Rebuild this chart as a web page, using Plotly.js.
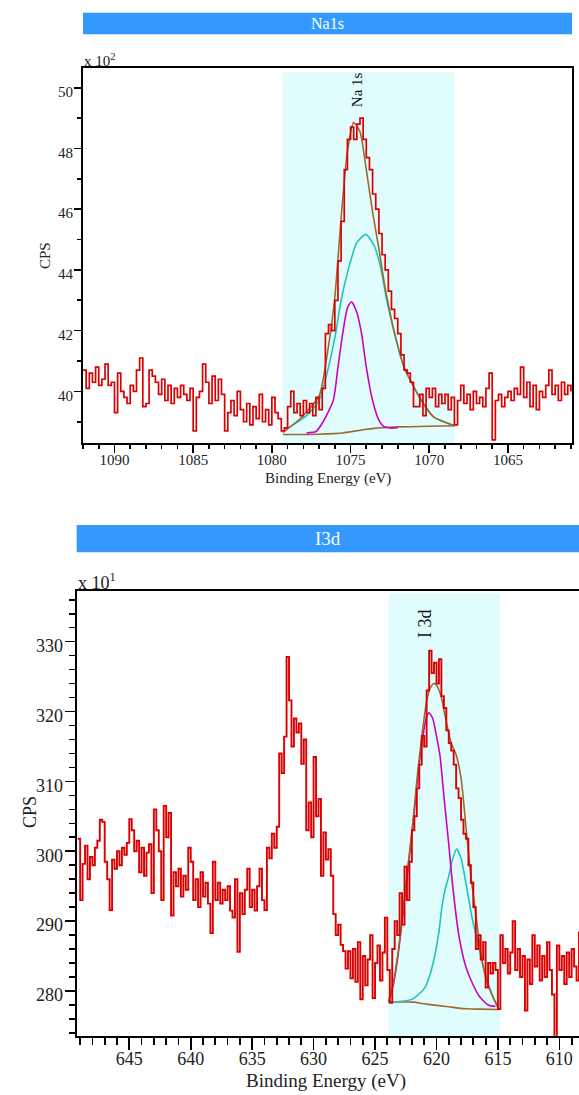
<!DOCTYPE html>
<html>
<head>
<meta charset="utf-8">
<script src="https://cdn.plot.ly/plotly-3.0.1.min.js"></script>
<style>
html,body{margin:0;padding:0;background:#fff;overflow:hidden;}
#chart{width:579px;height:1095px;}
</style>
</head>
<body>
<div id="chart"></div>
<script>
// ---------- Na1s panel (counts in units of 10^2 CPS) ----------
const naStartEnergy = 1092.0;   // eV, first channel
const naStepEnergy = -0.2;      // eV per channel
const naCounts = [
 40.7,40.1,40.6,40.3,40.8,40.2,40.4,40.9,40.2,40.3,
 39.3,40.6,40.0,39.8,39.6,40.2,40.0,40.7,41.1,39.5,
 39.6,40.7,40.5,40.3,39.9,40.4,39.7,40.2,39.6,40.1,
 39.8,40.2,39.9,39.7,40.1,38.7,39.8,40.0,40.9,40.3,
 39.6,40.5,39.7,40.4,39.9,38.7,39.3,39.7,39.2,40.0,
 39.4,39.0,39.6,38.9,39.5,39.1,39.9,39.0,39.4,38.9,
 39.8,39.3,39.1,38.7,38.8,39.5,40.0,39.3,39.6,39.2,
 39.7,39.3,39.6,39.2,39.8,39.4,40.1,41.9,42.2,42.0,
 43.0,44.3,45.6,47.3,48.3,48.7,48.3,48.8,49.0,48.3,
 47.7,47.3,46.5,46.0,45.2,44.5,44.0,43.3,42.7,42.4,
 41.9,41.2,40.7,40.6,40.3,39.5,39.5,39.9,39.2,40.1,
 39.8,40.1,39.5,39.9,39.6,39.9,39.4,39.8,38.9,39.7,
 40.2,39.6,39.9,39.4,40.0,39.6,39.8,39.5,40.1,40.6,
 38.4,39.7,39.9,39.5,39.8,40.0,39.7,40.1,39.9,40.8,
 39.8,40.3,39.5,40.2,39.4,40.0,39.8,40.2,40.7,39.9,
 40.2,39.7,40.3,39.9,40.2,40.0
];
const naRegion = [1079.3, 1068.4];
const naBgX = [1079.3,1077.0,1076.0,1075.5,1075.0,1074.5,1074.0,1073.5,1073.0,1072.0,1070.0,1068.4];
const naBgY = [38.58,38.59,38.61,38.63,38.67,38.71,38.75,38.78,38.80,38.83,38.85,38.87];
const naPeakAX = [1077.8,1077.2,1076.8,1076.1,1075.8,1075.5,1075.2,1074.94,1074.6,1074.3,1074.0,1073.6,1073.2,1072.9,1072.4,1072.0];
const naPeakAY = [38.63,38.68,38.95,39.7,40.8,41.9,42.75,42.95,42.6,41.9,40.8,39.7,39.05,38.85,38.79,38.8];
const naPeakBX = [1079.3,1078.8,1078.2,1077.8,1077.0,1076.4,1075.95,1075.6,1075.1,1074.6,1074.04,1073.5,1073.1,1072.7,1072.2,1071.6,1070.5,1069.7,1068.4];
const naPeakBY = [38.65,38.85,39.05,39.2,39.7,40.8,41.9,43.0,44.1,44.9,45.17,44.8,44.1,43.0,41.9,40.8,39.7,39.15,38.87];
const naEnvX = [1079.3,1078.2,1077.0,1076.4,1076.0,1075.6,1075.2,1074.8,1074.4,1074.0,1073.6,1073.2,1072.8,1072.2,1071.6,1070.5,1069.7,1068.4];
const naEnvY = [38.65,39.1,39.85,41.5,43.1,45.7,47.9,48.85,48.55,47.3,45.9,44.7,43.4,41.9,40.8,39.7,39.15,38.87];

// ---------- I3d panel (counts in units of 10^1 CPS) ----------
const iStartEnergy = 649.2;
const iStepEnergy = -0.2;
const iCounts = [
 301.8,293.0,298.2,300.8,296.0,299.2,298.0,300.5,301.5,304.5,
 304.2,298.5,296.0,291.6,298.8,297.5,300.0,298.0,300.5,299.5,
 301.2,304.6,303.0,300.0,301.5,297.0,300.5,296.5,299.8,301.0,
 294.0,306.0,303.0,300.0,293.0,306.5,302.0,305.5,290.8,297.0,
 295.0,297.5,293.5,296.5,294.5,300.5,298.5,293.0,296.0,292.0,
 297.0,293.5,295.5,292.5,288.3,298.5,293.0,295.5,292.5,294.5,
 293.0,295.0,291.5,290.5,296.0,285.6,294.0,291.0,294.5,297.5,
 292.0,294.5,291.5,295.0,297.5,293.0,291.6,300.5,299.0,302.5,
 300.5,303.5,314.0,311.2,316.4,327.8,321.6,315.0,319.0,317.0,
 318.3,312.5,316.0,303.0,307.0,302.0,313.5,305.0,307.5,296.5,
 302.7,298.8,300.3,296.5,291.0,288.0,289.5,286.6,285.7,283.2,
 285.7,281.8,286.0,281.3,287.0,278.8,285.0,280.8,284.5,288.0,
 279.0,284.0,286.5,281.5,285.5,290.5,283.0,278.3,286.0,290.0,
 288.0,294.0,289.5,297.8,293.0,298.5,303.0,305.0,309.0,312.4,
 316.5,315.0,323.0,328.7,325.5,327.0,324.0,327.5,322.2,320.5,
 317.3,315.5,314.4,312.4,309.0,307.6,304.5,302.5,301.8,298.0,
 295.5,292.0,286.0,288.0,284.5,287.0,280.5,284.0,282.5,284.0,
 283.0,277.4,288.0,284.0,286.0,282.5,285.5,290.0,283.0,286.0,
 282.0,285.0,277.2,284.5,281.0,288.0,283.5,286.5,281.5,285.0,
 282.0,287.0,283.0,279.5,273.5,286.5,283.0,285.0,281.0,285.5,
 282.0,286.0,283.5,281.5,288.5
];
const iRegion = [623.9, 614.85];
const iBgX = [623.9,621.8,621.2,620.5,619.8,619.0,618.2,617.5,616.5,615.0];
const iBgY = [278.45,278.4,278.2,278.05,277.9,277.75,277.55,277.45,277.4,277.35];
const iPeakAX = [623.9,623.5,623.1,622.7,622.3,621.9,621.5,621.1,620.8,620.6,620.3,620.0,619.7,619.4,619.0,618.7,618.2,617.7,617.3,616.5,615.8,615.2];
const iPeakAY = [278.5,281.0,285.5,291.5,297.8,304.0,311.0,316.5,319.3,319.8,319.0,316.5,313.5,308.0,301.0,295.4,288.2,284.0,282.0,279.2,278.0,277.8];
const iPeakBX = [623.9,623.0,622.0,621.4,620.9,620.5,620.1,619.8,619.55,619.3,619.0,618.7,618.36,618.0,617.6,617.07,616.5,616.0,615.4,615.0];
const iPeakBY = [278.4,278.5,278.8,279.6,280.6,282.5,285.4,288.5,292.1,294.5,296.4,298.8,300.3,299.0,295.4,290.2,285.9,282.1,279.2,277.8];
const iEnvX = [623.9,623.5,623.1,622.7,622.3,621.9,621.5,621.1,620.8,620.5,620.2,619.9,619.6,619.2,618.8,618.4,618.0,617.6,617.2,616.8,616.4,616.0,615.5,615.0];
const iEnvY = [278.5,281.2,285.8,291.8,298.2,304.5,311.8,317.8,321.5,323.4,324.0,323.5,322.0,318.5,315.5,313.8,310.5,303.5,296.5,291.0,285.5,282.0,279.5,277.6];

const naTitle = 'Na1s', iTitle = 'I3d';
const naPeakLabel = 'Na 1s', iPeakLabel = 'I 3d';
const naPeakLabelPos = [1074.57, 49.93];
const iPeakLabelPos = [620.9, 332.6];
const xTitleText = 'Binding Energy (eV)', yTitleText = 'CPS';

// ---------- styling ----------
const W = 579, H = 1095;
const serif = 'Liberation Serif';
const RED = '#dd0000', CYAN = '#1fc4c0', MAG = '#cc00cc', BROWN = '#9b6a2f';
const px = v => v / W;
const py = v => 1 - v / H;

function fitTrace(x, y, color, xa, ya, w) {
  return {x: x, y: y, mode: 'lines', line: {color: color, width: w || 1.6, shape: 'spline', smoothing: 0.6},
          xaxis: xa, yaxis: ya, hoverinfo: 'skip', showlegend: false};
}

const traces = [
  fitTrace(naBgX, naBgY, BROWN, 'x', 'y', 1.6),
  fitTrace(naPeakBX, naPeakBY, CYAN, 'x', 'y'),
  fitTrace(naPeakAX, naPeakAY, MAG, 'x', 'y'),
  fitTrace(naEnvX, naEnvY, BROWN, 'x', 'y', 1.6),
  {x0: naStartEnergy, dx: naStepEnergy, y: naCounts, mode: 'lines', line: {color: RED, width: 1.7, shape: 'hv'},
   xaxis: 'x', yaxis: 'y', showlegend: false},
  fitTrace(iBgX, iBgY, BROWN, 'x2', 'y2', 1.6),
  fitTrace(iPeakBX, iPeakBY, CYAN, 'x2', 'y2'),
  fitTrace(iPeakAX, iPeakAY, MAG, 'x2', 'y2'),
  fitTrace(iEnvX, iEnvY, BROWN, 'x2', 'y2', 1.6),
  {x0: iStartEnergy, dx: iStepEnergy, y: iCounts, mode: 'lines', line: {color: RED, width: 1.9, shape: 'hv'},
   xaxis: 'x2', yaxis: 'y2', showlegend: false}
];

function axisBase(fs) {
  return {showline: true, linecolor: '#000', linewidth: 2, showgrid: false, zeroline: false,
          ticks: 'outside', tickcolor: '#000', tickwidth: 1.6,
          tickfont: {family: serif, size: fs, color: '#222'}};
}
function minorTicks(dt, t0, len, w) {
  return {dtick: dt, tick0: t0, ticks: 'outside', ticklen: len, tickwidth: w, tickcolor: '#000', showgrid: false};
}

function ann(x, y, text, size, extra) {
  return Object.assign({xref: 'paper', yref: 'paper', x: x, y: y, text: text, showarrow: false,
    xanchor: 'center', yanchor: 'middle', font: {family: serif, size: size, color: '#222'}}, extra || {});
}

const layout = {
  width: W, height: H, margin: {l: 0, r: 0, t: 0, b: 0},
  paper_bgcolor: '#fff', plot_bgcolor: 'rgba(0,0,0,0)', showlegend: false,
  xaxis: Object.assign(axisBase(15), {domain: [px(83), px(572)], range: [1092.0, 1060.93], anchor: 'y',
    mirror: true, dtick: 5, tick0: 1060, ticklen: 8, ticklabelstandoff: -6,
    minor: minorTicks(1, 1060, 4, 1.6)}),
  yaxis: Object.assign(axisBase(15), {domain: [py(443.3), py(68.3)], range: [38.29, 50.64], anchor: 'x',
    mirror: true, dtick: 2, tick0: 0, ticklen: 7, ticklabelshift: 4, ticklabelstandoff: -2,
    minor: minorTicks(1, 0, 4, 1.6)}),
  xaxis2: Object.assign(axisBase(18), {domain: [px(76.7), 1], range: [649.28, 608.4], anchor: 'y2',
    mirror: true, dtick: 5, tick0: 600, ticklen: 12, ticklabelstandoff: -6,
    minor: minorTicks(1, 600, 7, 1.8)}),
  yaxis2: Object.assign(axisBase(18), {domain: [py(1035.7), py(591)], range: [273.6, 337.25], anchor: 'x2',
    mirror: false, dtick: 10, tick0: 0, ticklen: 10, ticklabelshift: 4, ticklabelstandoff: -2,
    minor: minorTicks(2, 0, 6, 1.6)}),
  shapes: [
    {type: 'rect', xref: 'x', yref: 'y domain', x0: naRegion[0], x1: naRegion[1], y0: 0, y1: 0.99,
     fillcolor: '#e0fcfc', line: {width: 0}, layer: 'below'},
    {type: 'rect', xref: 'x2', yref: 'y2 domain', x0: iRegion[0], x1: iRegion[1], y0: 0, y1: 0.995,
     fillcolor: '#e0fcfc', line: {width: 0}, layer: 'below'},
    {type: 'rect', xref: 'paper', yref: 'paper', x0: px(83), x1: px(572), y0: py(34.3), y1: py(12.7),
     fillcolor: '#3399ff', line: {width: 0}},
    {type: 'rect', xref: 'paper', yref: 'paper', x0: px(76.7), x1: px(579), y0: py(552.3), y1: py(525),
     fillcolor: '#3399ff', line: {width: 0}}
  ],
  annotations: [
    ann(px(327.5), py(23.5), naTitle, 16, {font: {family: serif, size: 16, color: '#fff'}}),
    ann(px(327.5), py(538.6), iTitle, 19, {font: {family: serif, size: 19, color: '#fff'}}),
    {xref: 'x', yref: 'y', x: naPeakLabelPos[0], y: naPeakLabelPos[1], text: naPeakLabel, textangle: -90,
     showarrow: false, xanchor: 'center', yanchor: 'middle', font: {family: serif, size: 15, color: '#111'}},
    {xref: 'x2', yref: 'y2', x: iPeakLabelPos[0], y: iPeakLabelPos[1], text: iPeakLabel, textangle: -90,
     showarrow: false, xanchor: 'center', yanchor: 'middle', font: {family: serif, size: 18, color: '#111'}},
    ann(px(82), py(60), 'x 10<sup>2</sup>', 15, {xanchor: 'left'}),
    ann(px(76), py(581), 'x 10<sup>1</sup>', 18, {xanchor: 'left'}),
    ann(px(45), py(256), yTitleText, 15, {textangle: -90}),
    ann(px(328), py(479), xTitleText, 15),
    ann(px(30), py(812), yTitleText, 18, {textangle: -90}),
    ann(px(326), py(1081), xTitleText, 19)
  ]
};

Plotly.newPlot('chart', traces, layout, {displayModeBar: false, staticPlot: true});
</script>
</body>
</html>
